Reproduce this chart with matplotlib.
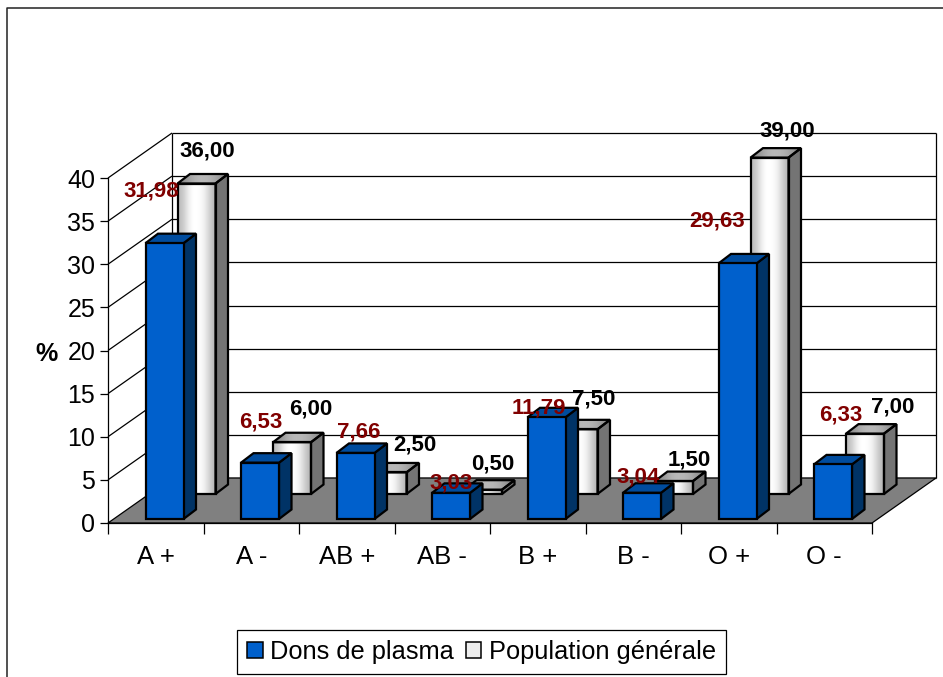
import numpy as np
import matplotlib
matplotlib.use("Agg")
import matplotlib.pyplot as plt
from matplotlib.patches import Polygon, Patch
from matplotlib.lines import Line2D

plt.rcParams['font.family'] = ['Liberation Sans', 'DejaVu Sans']

categories = ['A +', 'A -', 'AB +', 'AB -', 'B +', 'B -', 'O +', 'O -']
dons = [31.98, 6.53, 7.66, 3.03, 11.79, 3.04, 29.63, 6.33]
population = [36.00, 6.00, 2.50, 0.50, 7.50, 1.50, 39.00, 7.00]
series_names = ['Dons de plasma', 'Population générale']

# hand-placed label offsets in pixels (from bar front centre / top)
dons_off = [(-13.5, 52), (1, 41), (3.6, 21), (0, 10), (-8, 9), (-4, 16), (-20, 42), (8, 49)]
pop_off = [(10.5, 32.5), (19, 33), (27.6, 27), (10, 26), (14.7, 30), (15.2, 21), (17.7, 27), (27.3, 27)]

W, H = 943, 677
fig = plt.figure(figsize=(W / 100, H / 100), dpi=100, facecolor='white')
L, R, T, B = 108, 872, 178, 523
ax = fig.add_axes([L / W, 1 - B / H, (R - L) / W, (B - T) / H])
ax.set_xlim(0, 8)
ax.set_ylim(0, 40)
ax.patch.set_alpha(0)
PX = 8 / (R - L)
PY = 40 / (B - T)

# depth of the box, in data units
DX, DY = 64 * PX, 45 * PY
ln = dict(color='black', lw=0.9, clip_on=False, solid_capstyle='butt')

# walls and gridlines
for v in range(0, 45, 5):
    if v > 0:
        ax.add_line(Line2D([0, DX], [v, v + DY], zorder=1, **ln))
    ax.add_line(Line2D([DX, 8 + DX], [v + DY, v + DY], zorder=1, **ln))
ax.add_line(Line2D([DX, DX], [DY, 40 + DY], zorder=1, **ln))
ax.add_line(Line2D([8 + DX, 8 + DX], [DY, 40 + DY], zorder=1, **ln))

# floor
ax.add_patch(Polygon([[0, 0], [8, 0], [8 + DX, DY], [DX, DY]], closed=True, fc='#808080',
                     ec='black', lw=0.9, clip_on=False, zorder=2))

BW = 38 * PX
OFF_X = 37.5 * PX
SX, SY = 12.5 * PX, 9.5 * PY
grad = np.array([[0.74, 0.82, 0.93, 1.0, 1.0, 0.98, 0.92, 0.82, 0.72]])


def draw_bar(x, base, v, z, white):
    top = base + v
    ec = dict(ec='black', lw=1.6, clip_on=False, zorder=z + 0.3, joinstyle='miter')
    side = Polygon([[x + BW, base], [x + BW + SX, base + SY], [x + BW + SX, top + SY], [x + BW, top]],
                   closed=True, fc='#747474' if white else '#003366', **ec)
    topf = Polygon([[x, top], [x + SX, top + SY], [x + BW + SX, top + SY], [x + BW, top]],
                   closed=True, fc='#b4b4b4' if white else '#004c9e', **ec)
    ax.add_patch(side)
    ax.add_patch(topf)
    if white:
        ax.imshow(grad, cmap='gray', vmin=0, vmax=1, extent=[x, x + BW, base, top],
                  aspect='auto', interpolation='bicubic', zorder=z + 0.1, clip_on=False)
        im2 = ax.imshow(grad * 0.72, cmap='gray', vmin=0, vmax=1, extent=[x, x + BW + SX, top, top + SY],
                        aspect='auto', interpolation='bicubic', zorder=z + 0.25)
        im2.set_clip_box(fig.bbox)
        im2.set_clip_path(topf)
        ax.bar(x, v, BW, bottom=base, align='edge', fc='none', ec='black', lw=1.6, zorder=z + 0.5, clip_on=False)
        # outline stays above the gradient
        topf.set_facecolor('none')
    else:
        ax.bar(x, v, BW, bottom=base, align='edge', fc='#0060cc', ec='black', lw=1.6, zorder=z + 0.5, clip_on=False)


xs = np.arange(len(categories))
for i, v in zip(xs, population):
    draw_bar(i + OFF_X + 32 * PX, 29 * PY, v, 3, True)
for i, v in zip(xs, dons):
    draw_bar(i + OFF_X, 4 * PY, v, 5, False)
ax.set_xlim(0, 8)
ax.set_ylim(0, 40)

for i, v, (dx, dy) in zip(xs, population, pop_off):
    ax.annotate(f'{v:.2f}'.replace('.', ','), (i + OFF_X + 32 * PX + BW / 2, 29 * PY + v),
                xytext=(dx * 0.72, dy * 0.72), textcoords='offset points', ha='center', va='center',
                fontsize=16, fontweight='bold', color='black', zorder=10, annotation_clip=False)
for i, v, (dx, dy) in zip(xs, dons, dons_off):
    ax.annotate(f'{v:.2f}'.replace('.', ','), (i + OFF_X + BW / 2, 4 * PY + v),
                xytext=(dx * 0.72, dy * 0.72), textcoords='offset points', ha='center', va='center',
                fontsize=16, fontweight='bold', color='#800000', zorder=11, annotation_clip=False)

# axes
for s in ('top', 'right'):
    ax.spines[s].set_visible(False)
for s in ('left', 'bottom'):
    ax.spines[s].set_linewidth(0.9)
    ax.spines[s].set_zorder(2.5)
ax.set_yticks(range(0, 45, 5))
ax.tick_params(axis='y', length=6, width=0.9, labelsize=18, pad=3.2)
ax.set_xticks(range(9))
ax.set_xticklabels([])
ax.tick_params(axis='x', which='major', length=8, width=0.9)
ax.set_xticks(xs + 0.5, categories, minor=True)
ax.tick_params(axis='x', which='minor', length=0, labelsize=18.5, pad=16)
fig.text(46 / W, 1 - 354 / H, '%', fontsize=18, fontweight='bold', ha='center', va='center')

# chart frame
fig.add_artist(Line2D([7 / W, 7 / W, 942.5 / W], [0, 1 - 8 / H, 1 - 8 / H], color='#222222', lw=1.1,
                      transform=fig.transFigure))

# legend
handles = [Patch(fc='#0060cc', ec='black', lw=1.1), Patch(fc='#eeeeee', ec='black', lw=1.1)]
fig.legend(handles, series_names, loc='center', bbox_to_anchor=(481.5 / W, 1 - 652 / H), ncols=2,
           fontsize=18.3, frameon=True, fancybox=False, edgecolor='black', framealpha=1,
           handlelength=0.62, handleheight=0.62, handletextpad=0.3, columnspacing=0.45,
           borderpad=0.38, borderaxespad=0).get_frame().set_linewidth(0.9)

fig.savefig('out.png', dpi=100)
